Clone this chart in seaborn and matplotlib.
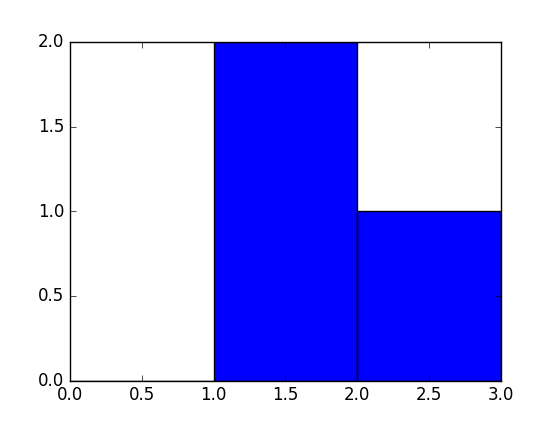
import matplotlib
matplotlib.use("Agg")
import matplotlib.pyplot as plt
import seaborn as sns

# histogram bins and counts
bin_edges = [0, 1, 2, 3]
bin_left = [0, 1, 2]
counts = [0, 2, 1]
x_ticks = [0.0, 0.5, 1.0, 1.5, 2.0, 2.5, 3.0]
y_ticks = [0.0, 0.5, 1.0, 1.5, 2.0]

plt.style.use("classic")
plt.rcParams["font.family"] = ["DejaVu Sans"]
plt.rcParams["font.size"] = 12

fig = plt.figure(figsize=(5.57, 4.23), dpi=100)
ax = fig.add_axes([0.125, 0.1, 0.775, 0.8])

sns.histplot(x=bin_left, weights=counts, bins=bin_edges, ax=ax,
             color="blue", edgecolor="black", linewidth=1, alpha=1)

ax.set_xlim(0, 3)
ax.set_ylim(0, 2)
ax.set_xticks(x_ticks)
ax.set_yticks(y_ticks)
ax.set_xlabel("")
ax.set_ylabel("")
ax.tick_params(direction="in", top=True, right=True, labelsize=12)

fig.savefig("out.png", dpi=100, facecolor="white")
